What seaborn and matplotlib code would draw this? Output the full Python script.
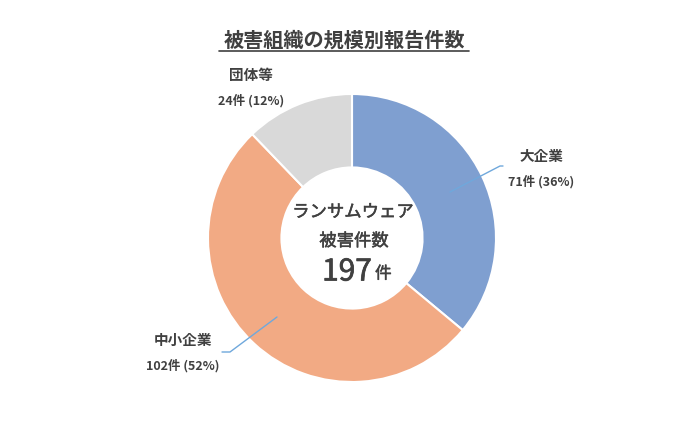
import matplotlib
matplotlib.use("Agg")
import matplotlib.pyplot as plt
import matplotlib.patheffects as pe
import seaborn as sns

categories = ["大企業", "中小企業", "団体等"]
counts = [71, 102, 24]
percents = [36, 52, 12]
colors = ["#7F9FD0", "#F2AA84", "#D9D9D9"]
title = "被害組織の規模別報告件数"
center_lines = ["ランサムウェア", "被害件数"]
total = 197

sns.set_theme(style="white")
plt.rcParams['font.family'] = ['Noto Sans CJK JP', 'DejaVu Sans']

W, H = 700, 424
fig = plt.figure(figsize=(7, 4.24), dpi=100)
ax = fig.add_axes([0, 0, 1, 1])

def Y(y):
    return H - y

cx, cy, R = 352, 238, 144
ax.pie(counts, colors=colors, startangle=90, counterclock=False,
       center=(cx, Y(cy)), radius=R, frame=True,
       wedgeprops=dict(width=R * 0.51, edgecolor='white', linewidth=1.5))
ax.set_xlim(0, W)
ax.set_ylim(0, H)
ax.set_aspect('equal')
ax.axis('off')

txt = "#404040"
# title
ax.text(344, Y(40), title, ha='center', va='center', fontsize=14.5,
        fontweight='bold', color=txt)
ax.plot([219, 469], [Y(51), Y(51)], color=txt, lw=1.2)

# labels
label_pos = {0: (541, 156), 1: (183, 340), 2: (251, 75)}
for i, (cat, n, p) in enumerate(zip(categories, counts, percents)):
    x, y = label_pos[i]
    ax.text(x, Y(y), cat, ha='center', va='center', fontsize=10.5,
            fontweight='bold', color=txt)
    ax.text(x, Y(y + 26), f"{n}件 ({p}%)", ha='center', va='center',
            fontsize=9, fontweight='bold', color=txt)

# leader lines
lc = "#6FA8DC"
ax.plot([450, 500, 503], [Y(192), Y(166), Y(166)], color=lc, lw=1)
ax.plot([277, 230, 222], [Y(317), Y(352), Y(352)], color=lc, lw=1)

# center text (medium weight emulated)
thick = [pe.withStroke(linewidth=0.35, foreground=txt)]
ax.text(cx + 1, Y(212), center_lines[0], ha='center', va='center', fontsize=12.5,
        color=txt, path_effects=thick)
ax.text(cx + 2, Y(241), center_lines[1], ha='center', va='center', fontsize=12.5,
        color=txt, path_effects=thick)
ax.text(372, Y(272), str(total), ha='right', va='center', fontsize=21.5,
        color=txt, path_effects=[pe.withStroke(linewidth=0.5, foreground=txt)])
ax.text(375, Y(274), "件", ha='left', va='center', fontsize=12,
        color=txt, path_effects=thick)

fig.savefig("out.png", dpi=100)
